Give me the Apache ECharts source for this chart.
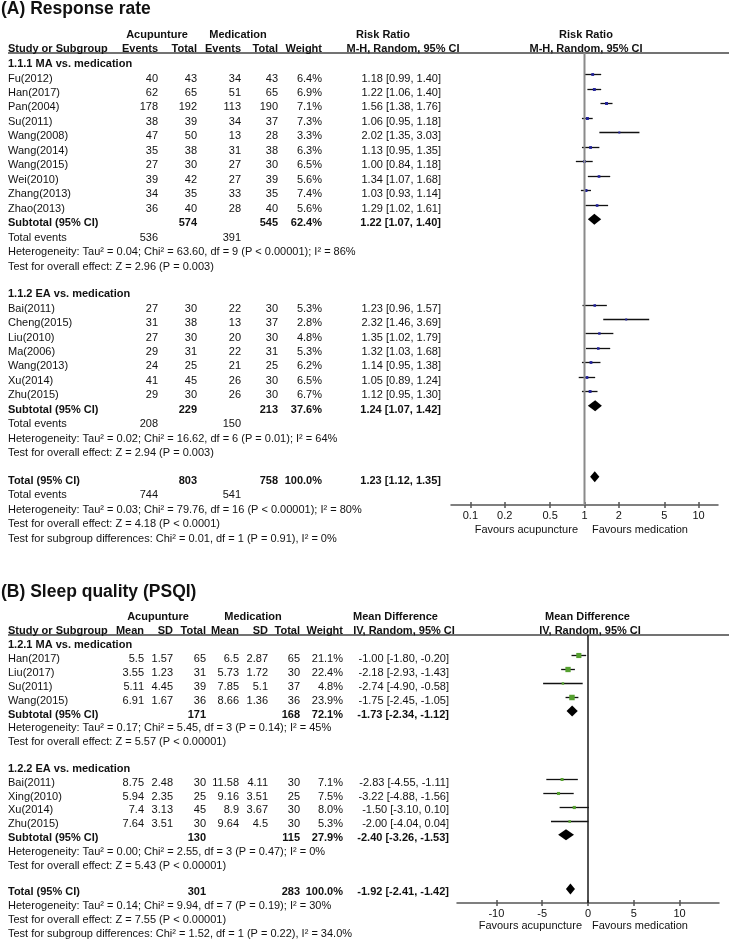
<!DOCTYPE html>
<html><head><meta charset="utf-8">
<script src="https://cdn.jsdelivr.net/npm/echarts@6/dist/echarts.min.js"></script>
<style>html,body{margin:0;padding:0;background:#fff}#chart{width:729px;height:940px}</style>
</head><body><div id="chart"></div>
<script>
// ===================== DATA: Panel A (Response rate) =====================
const titleA = '(A) Response rate';
const groupLabelsA = ['1.1.1 MA vs. medication', '1.1.2 EA vs. medication'];
const studiesA1 = ['Fu(2012)','Han(2017)','Pan(2004)','Su(2011)','Wang(2008)','Wang(2014)','Wang(2015)','Wei(2010)','Zhang(2013)','Zhao(2013)'];
const acuEventsA1 = [40,62,178,38,47,35,27,39,34,36];
const acuTotalA1  = [43,65,192,39,50,38,30,42,35,40];
const medEventsA1 = [34,51,113,34,13,31,27,27,33,28];
const medTotalA1  = [43,65,190,37,28,38,30,39,35,40];
const weightA1    = [6.4,6.9,7.1,7.3,3.3,6.3,6.5,5.6,7.4,5.6];
const rrA1   = [1.18,1.22,1.56,1.06,2.02,1.13,1.00,1.34,1.03,1.29];
const rrLoA1 = [0.99,1.06,1.38,0.95,1.35,0.95,0.84,1.07,0.93,1.02];
const rrHiA1 = [1.40,1.40,1.76,1.18,3.03,1.35,1.18,1.68,1.14,1.61];
const subA1 = {acuTotal:574, medTotal:545, weight:62.4, est:1.22, lo:1.07, hi:1.40, acuEvents:536, medEvents:391};
const hetA1 = 'Heterogeneity: Tau² = 0.04; Chi² = 63.60, df = 9 (P < 0.00001); I² = 86%';
const testA1 = 'Test for overall effect: Z = 2.96 (P = 0.003)';

const studiesA2 = ['Bai(2011)','Cheng(2015)','Liu(2010)','Ma(2006)','Wang(2013)','Xu(2014)','Zhu(2015)'];
const acuEventsA2 = [27,31,27,29,24,41,29];
const acuTotalA2  = [30,38,30,31,25,45,30];
const medEventsA2 = [22,13,20,22,21,26,26];
const medTotalA2  = [30,37,30,31,25,30,30];
const weightA2    = [5.3,2.8,4.8,5.3,6.2,6.5,6.7];
const rrA2   = [1.23,2.32,1.35,1.32,1.14,1.05,1.12];
const rrLoA2 = [0.96,1.46,1.02,1.03,0.95,0.89,0.95];
const rrHiA2 = [1.57,3.69,1.79,1.68,1.38,1.24,1.30];
const subA2 = {acuTotal:229, medTotal:213, weight:37.6, est:1.24, lo:1.07, hi:1.42, acuEvents:208, medEvents:150};
const hetA2 = 'Heterogeneity: Tau² = 0.02; Chi² = 16.62, df = 6 (P = 0.01); I² = 64%';
const testA2 = 'Test for overall effect: Z = 2.94 (P = 0.003)';

const totA = {acuTotal:803, medTotal:758, weight:100.0, est:1.23, lo:1.12, hi:1.35, acuEvents:744, medEvents:541};
const totTextA = ['Heterogeneity: Tau² = 0.03; Chi² = 79.76, df = 16 (P < 0.00001); I² = 80%',
  'Test for overall effect: Z = 4.18 (P < 0.0001)',
  'Test for subgroup differences: Chi² = 0.01, df = 1 (P = 0.91), I² = 0%'];
const ticksA = [0.1,0.2,0.5,1,2,5,10];

// ===================== DATA: Panel B (Sleep quality) =====================
const titleB = '(B) Sleep quality (PSQI)';
const groupLabelsB = ['1.2.1 MA vs. medication', '1.2.2 EA vs. medication'];
const studiesB1 = ['Han(2017)','Liu(2017)','Su(2011)','Wang(2015)'];
const acuMeanB1 = [5.5,3.55,5.11,6.91];
const acuSDB1   = [1.57,1.23,4.45,1.67];
const acuNB1    = [65,31,39,36];
const medMeanB1 = [6.5,5.73,7.85,8.66];
const medSDB1   = [2.87,1.72,5.1,1.36];
const medNB1    = [65,30,37,36];
const weightB1  = [21.1,22.4,4.8,23.9];
const mdB1   = [-1.00,-2.18,-2.74,-1.75];
const mdLoB1 = [-1.80,-2.93,-4.90,-2.45];
const mdHiB1 = [-0.20,-1.43,-0.58,-1.05];
const subB1 = {acuTotal:171, medTotal:168, weight:72.1, est:-1.73, lo:-2.34, hi:-1.12};
const hetB1 = 'Heterogeneity: Tau² = 0.17; Chi² = 5.45, df = 3 (P = 0.14); I² = 45%';
const testB1 = 'Test for overall effect: Z = 5.57 (P < 0.00001)';

const studiesB2 = ['Bai(2011)','Xing(2010)','Xu(2014)','Zhu(2015)'];
const acuMeanB2 = [8.75,5.94,7.4,7.64];
const acuSDB2   = [2.48,2.35,3.13,3.51];
const acuNB2    = [30,25,45,30];
const medMeanB2 = [11.58,9.16,8.9,9.64];
const medSDB2   = [4.11,3.51,3.67,4.5];
const medNB2    = [30,25,30,30];
const weightB2  = [7.1,7.5,8.0,5.3];
const mdB2   = [-2.83,-3.22,-1.50,-2.00];
const mdLoB2 = [-4.55,-4.88,-3.10,-4.04];
const mdHiB2 = [-1.11,-1.56,0.10,0.04];
const subB2 = {acuTotal:130, medTotal:115, weight:27.9, est:-2.40, lo:-3.26, hi:-1.53};
const hetB2 = 'Heterogeneity: Tau² = 0.00; Chi² = 2.55, df = 3 (P = 0.47); I² = 0%';
const testB2 = 'Test for overall effect: Z = 5.43 (P < 0.00001)';

const totB = {acuTotal:301, medTotal:283, weight:100.0, est:-1.92, lo:-2.41, hi:-1.42};
const totTextB = ['Heterogeneity: Tau² = 0.14; Chi² = 9.94, df = 7 (P = 0.19); I² = 30%',
  'Test for overall effect: Z = 7.55 (P < 0.00001)',
  'Test for subgroup differences: Chi² = 1.52, df = 1 (P = 0.22), I² = 34.0%'];
const ticksB = [-10,-5,0,5,10];

// ===================== LAYOUT =====================
const FF = '"Liberation Sans", Arial, Helvetica, sans-serif';
const TXT = '#111';
const graphics = [];
function txt(x, y, s, align, bold, size) {
  graphics.push({type:'text', x:x, y:y, silent:true, z:10,
    style:{text:String(s), textAlign:align||'left', textVerticalAlign:'middle', align:align||'left', verticalAlign:'middle',
      font:(bold?'bold ':'') + (size||11) + 'px ' + FF, fill:TXT}});
}
function hline(x1, x2, y, color, w) {
  graphics.push({type:'line', silent:true, shape:{x1:x1,y1:y,x2:x2,y2:y}, style:{stroke:color, lineWidth:w}});
}
const f2 = v => v.toFixed(2);
const ciStr = (e,l,h) => f2(e) + ' [' + f2(l) + ', ' + f2(h) + ']';
const pct = w => w.toFixed(1) + '%';

// ---------- Panel A ----------
const A = {row0:64, step:14.47, shift:-4, gLeft:451, gTop:53, gW:267, gH:452, xMin:-1.17, xMax:1.17,
  col:{name:8, aEv:158, aTot:197, mEv:241, mTot:278, w:322, ci:441}};
const yA = k => A.row0 + A.step * k;
txt(1, 9.5, titleA, 'left', true, 17.5);
txt(157, 35, 'Acupunture', 'center', true);
txt(238, 35, 'Medication', 'center', true);
txt(383, 35, 'Risk Ratio', 'center', true);
txt(586, 35, 'Risk Ratio', 'center', true);
txt(8, 49, 'Study or Subgroup', 'left', true);
txt(A.col.aEv, 49, 'Events', 'right', true);
txt(A.col.aTot, 49, 'Total', 'right', true);
txt(A.col.mEv, 49, 'Events', 'right', true);
txt(A.col.mTot, 49, 'Total', 'right', true);
txt(A.col.w, 49, 'Weight', 'right', true);
txt(403, 49, 'M-H, Random, 95% CI', 'center', true);
txt(586, 49, 'M-H, Random, 95% CI', 'center', true);
hline(8, 729, 53, '#444', 1.5);

const ciDataA = [], diaDataA = [];
const groupsA = [
  {label:groupLabelsA[0], names:studiesA1, aEv:acuEventsA1, aTot:acuTotalA1, mEv:medEventsA1, mTot:medTotalA1, w:weightA1, e:rrA1, lo:rrLoA1, hi:rrHiA1, sub:subA1, het:hetA1, test:testA1},
  {label:groupLabelsA[1], names:studiesA2, aEv:acuEventsA2, aTot:acuTotalA2, mEv:medEventsA2, mTot:medTotalA2, w:weightA2, e:rrA2, lo:rrLoA2, hi:rrHiA2, sub:subA2, het:hetA2, test:testA2}
];
let k = 0;
groupsA.forEach((g, gi) => {
  if (gi > 0) k += 1.9;
  txt(A.col.name, yA(k), g.label, 'left', true);
  g.names.forEach((n, i) => {
    k += 1;
    const y = yA(k);
    txt(A.col.name, y, n, 'left');
    txt(A.col.aEv, y, g.aEv[i], 'right');
    txt(A.col.aTot, y, g.aTot[i], 'right');
    txt(A.col.mEv, y, g.mEv[i], 'right');
    txt(A.col.mTot, y, g.mTot[i], 'right');
    txt(A.col.w, y, pct(g.w[i]), 'right');
    txt(A.col.ci, y, ciStr(g.e[i], g.lo[i], g.hi[i]), 'right');
    ciDataA.push([Math.log10(g.lo[i]), Math.log10(g.hi[i]), Math.log10(g.e[i]), k, g.w[i]]);
  });
  k += 1;
  let y = yA(k);
  txt(A.col.name, y, 'Subtotal (95% CI)', 'left', true);
  txt(A.col.aTot, y, g.sub.acuTotal, 'right', true);
  txt(A.col.mTot, y, g.sub.medTotal, 'right', true);
  txt(A.col.w, y, pct(g.sub.weight), 'right', true);
  txt(A.col.ci, y, ciStr(g.sub.est, g.sub.lo, g.sub.hi), 'right', true);
  diaDataA.push([Math.log10(g.sub.lo), Math.log10(g.sub.hi), Math.log10(g.sub.est), k]);
  k += 1; y = yA(k);
  txt(A.col.name, y, 'Total events', 'left');
  txt(A.col.aEv, y, g.sub.acuEvents, 'right');
  txt(A.col.mEv, y, g.sub.medEvents, 'right');
  k += 1; txt(A.col.name, yA(k), g.het, 'left');
  k += 1; txt(A.col.name, yA(k), g.test, 'left');
});
k += 1.9;
{
  let y = yA(k);
  txt(A.col.name, y, 'Total (95% CI)', 'left', true);
  txt(A.col.aTot, y, totA.acuTotal, 'right', true);
  txt(A.col.mTot, y, totA.medTotal, 'right', true);
  txt(A.col.w, y, pct(totA.weight), 'right', true);
  txt(A.col.ci, y, ciStr(totA.est, totA.lo, totA.hi), 'right', true);
  diaDataA.push([Math.log10(totA.lo), Math.log10(totA.hi), Math.log10(totA.est), k]);
  k += 1; y = yA(k);
  txt(A.col.name, y, 'Total events', 'left');
  txt(A.col.aEv, y, totA.acuEvents, 'right');
  txt(A.col.mEv, y, totA.medEvents, 'right');
  totTextA.forEach(s => { k += 1; txt(A.col.name, yA(k), s, 'left'); });
}
txt(578, 530, 'Favours acupuncture', 'right');
txt(592, 530, 'Favours medication', 'left');
const A_kMin = (A.gTop - (A.row0 + A.shift)) / A.step;
const A_kMax = (A.gTop + A.gH - (A.row0 + A.shift)) / A.step;

// ---------- Panel B ----------
const B = {row0:645, step:13.9, shift:-3.5, gLeft:457, gTop:635, gW:262, gH:268, xMin:-14.3, xMax:14.3,
  col:{name:8, aM:144, aSD:173, aN:206, mM:239, mSD:268, mN:300, w:343, ci:449}};
const yB = k => B.row0 + B.step * k;
txt(1, 592, titleB, 'left', true, 17.5);
txt(158, 617, 'Acupunture', 'center', true);
txt(253, 617, 'Medication', 'center', true);
txt(395.5, 617, 'Mean Difference', 'center', true);
txt(587.5, 617, 'Mean Difference', 'center', true);
txt(8, 631, 'Study or Subgroup', 'left', true);
txt(B.col.aM, 631, 'Mean', 'right', true);
txt(B.col.aSD, 631, 'SD', 'right', true);
txt(B.col.aN, 631, 'Total', 'right', true);
txt(B.col.mM, 631, 'Mean', 'right', true);
txt(B.col.mSD, 631, 'SD', 'right', true);
txt(B.col.mN, 631, 'Total', 'right', true);
txt(B.col.w, 631, 'Weight', 'right', true);
txt(404, 631, 'IV, Random, 95% CI', 'center', true);
txt(590, 631, 'IV, Random, 95% CI', 'center', true);
hline(8, 729, 635, '#444', 1.5);

const ciDataB = [], diaDataB = [];
const groupsB = [
  {label:groupLabelsB[0], names:studiesB1, aM:acuMeanB1, aSD:acuSDB1, aN:acuNB1, mM:medMeanB1, mSD:medSDB1, mN:medNB1, w:weightB1, e:mdB1, lo:mdLoB1, hi:mdHiB1, sub:subB1, het:hetB1, test:testB1},
  {label:groupLabelsB[1], names:studiesB2, aM:acuMeanB2, aSD:acuSDB2, aN:acuNB2, mM:medMeanB2, mSD:medSDB2, mN:medNB2, w:weightB2, e:mdB2, lo:mdLoB2, hi:mdHiB2, sub:subB2, het:hetB2, test:testB2}
];
k = 0;
groupsB.forEach((g, gi) => {
  if (gi > 0) k += 1.9;
  txt(B.col.name, yB(k), g.label, 'left', true);
  g.names.forEach((n, i) => {
    k += 1;
    const y = yB(k);
    txt(B.col.name, y, n, 'left');
    txt(B.col.aM, y, g.aM[i], 'right');
    txt(B.col.aSD, y, g.aSD[i], 'right');
    txt(B.col.aN, y, g.aN[i], 'right');
    txt(B.col.mM, y, g.mM[i], 'right');
    txt(B.col.mSD, y, g.mSD[i], 'right');
    txt(B.col.mN, y, g.mN[i], 'right');
    txt(B.col.w, y, pct(g.w[i]), 'right');
    txt(B.col.ci, y, ciStr(g.e[i], g.lo[i], g.hi[i]), 'right');
    ciDataB.push([g.lo[i], g.hi[i], g.e[i], k, g.w[i]]);
  });
  k += 1;
  const y = yB(k);
  txt(B.col.name, y, 'Subtotal (95% CI)', 'left', true);
  txt(B.col.aN, y, g.sub.acuTotal, 'right', true);
  txt(B.col.mN, y, g.sub.medTotal, 'right', true);
  txt(B.col.w, y, pct(g.sub.weight), 'right', true);
  txt(B.col.ci, y, ciStr(g.sub.est, g.sub.lo, g.sub.hi), 'right', true);
  diaDataB.push([g.sub.lo, g.sub.hi, g.sub.est, k]);
  k += 1; txt(B.col.name, yB(k), g.het, 'left');
  k += 1; txt(B.col.name, yB(k), g.test, 'left');
});
k += 1.9;
{
  const y = yB(k);
  txt(B.col.name, y, 'Total (95% CI)', 'left', true);
  txt(B.col.aN, y, totB.acuTotal, 'right', true);
  txt(B.col.mN, y, totB.medTotal, 'right', true);
  txt(B.col.w, y, pct(totB.weight), 'right', true);
  txt(B.col.ci, y, ciStr(totB.est, totB.lo, totB.hi), 'right', true);
  diaDataB.push([totB.lo, totB.hi, totB.est, k]);
  totTextB.forEach(s => { k += 1; txt(B.col.name, yB(k), s, 'left'); });
}
txt(582, 926, 'Favours acupuncture', 'right');
txt(592, 926, 'Favours medication', 'left');
const B_kMin = (B.gTop - (B.row0 + B.shift)) / B.step;
const B_kMax = (B.gTop + B.gH - (B.row0 + B.shift)) / B.step;

// ===================== RENDERERS =====================
function ciRender(color) {
  return function (params, api) {
    const y = api.value(3);
    const a = api.coord([api.value(0), y]);
    const b = api.coord([api.value(1), y]);
    const e = api.coord([api.value(2), y]);
    const ly = Math.round(a[1]) + 0.5;
    const s = Math.max(2, 1.12 * Math.sqrt(api.value(4)));
    return {type:'group', children:[
      {type:'line', shape:{x1:a[0], y1:ly, x2:b[0], y2:ly}, style:{stroke:'#111', lineWidth:1.3}},
      {type:'rect', z2:5, shape:{x:e[0]-s/2, y:ly-s/2, width:s, height:s}, style:{fill:color}}
    ]};
  };
}
function diaRender(params, api) {
  const y = api.value(3);
  const a = api.coord([api.value(0), y]);
  const b = api.coord([api.value(1), y]);
  const e = api.coord([api.value(2), y]);
  const h = 5.5;
  return {type:'polygon', shape:{points:[[a[0],a[1]],[e[0],e[1]-h],[b[0],b[1]],[e[0],e[1]+h]]}, style:{fill:'#000'}};
}
const logTicksA = ticksA.map(t => Math.log10(t));
const fmtA = v => { const t = ticksA.find(t => Math.abs(Math.log10(t) - v) < 1e-9); return t === undefined ? '' : String(t); };

function xAxisPair(gi, min, max, vals, fmt, gH) {
  const common = {gridIndex:gi, type:'value', min:min, max:max, splitLine:{show:false}};
  return [
    Object.assign({}, common, {position:'bottom',
      axisLine:{onZero:false, lineStyle:{color:'#555', width:1.5}},
      axisTick:{customValues:vals, length:3, lineStyle:{color:'#555', width:1.5}},
      axisLabel:{customValues:vals, formatter:fmt, color:TXT, fontSize:11, fontFamily:FF, margin:5}}),
    Object.assign({}, common, {position:'top', offset:-gH,
      axisLine:{show:false, onZero:false},
      axisTick:{customValues:vals, length:3, lineStyle:{color:'#555', width:1.5}},
      axisLabel:{show:false}})
  ];
}

const chart = echarts.init(document.getElementById('chart'), null, {renderer:'canvas'});
chart.setOption({
  backgroundColor:'#fff',
  animation:false,
  grid:[
    {left:A.gLeft, top:A.gTop, width:A.gW, height:A.gH},
    {left:B.gLeft, top:B.gTop, width:B.gW, height:B.gH}
  ],
  xAxis: xAxisPair(0, A.xMin, A.xMax, logTicksA, fmtA, A.gH).concat(
         xAxisPair(1, B.xMin, B.xMax, ticksB, v => String(v), B.gH)),
  yAxis:[
    {gridIndex:0, type:'value', min:A_kMin, max:A_kMax, inverse:true, show:false},
    {gridIndex:1, type:'value', min:B_kMin, max:B_kMax, inverse:true, show:false}
  ],
  graphic:{elements:graphics},
  series:[
    {type:'line', xAxisIndex:0, yAxisIndex:0, data:[[0, A_kMin],[0, A_kMax]], symbol:'none', silent:true,
      lineStyle:{color:'#8a8a8a', width:2}},
    {type:'custom', xAxisIndex:0, yAxisIndex:0, data:ciDataA, renderItem:ciRender('#22229a'), encode:{x:[0,1,2], y:3}, silent:true},
    {type:'custom', xAxisIndex:0, yAxisIndex:0, data:diaDataA, renderItem:diaRender, encode:{x:[0,1,2], y:3}, silent:true},
    {type:'line', xAxisIndex:2, yAxisIndex:1, data:[[0, B_kMin],[0, B_kMax]], symbol:'none', silent:true,
      lineStyle:{color:'#1a1a1a', width:1.5}},
    {type:'custom', xAxisIndex:2, yAxisIndex:1, data:ciDataB, renderItem:ciRender('#55a02f'), encode:{x:[0,1,2], y:3}, silent:true},
    {type:'custom', xAxisIndex:2, yAxisIndex:1, data:diaDataB, renderItem:diaRender, encode:{x:[0,1,2], y:3}, silent:true}
  ]
});
</script></body></html>
